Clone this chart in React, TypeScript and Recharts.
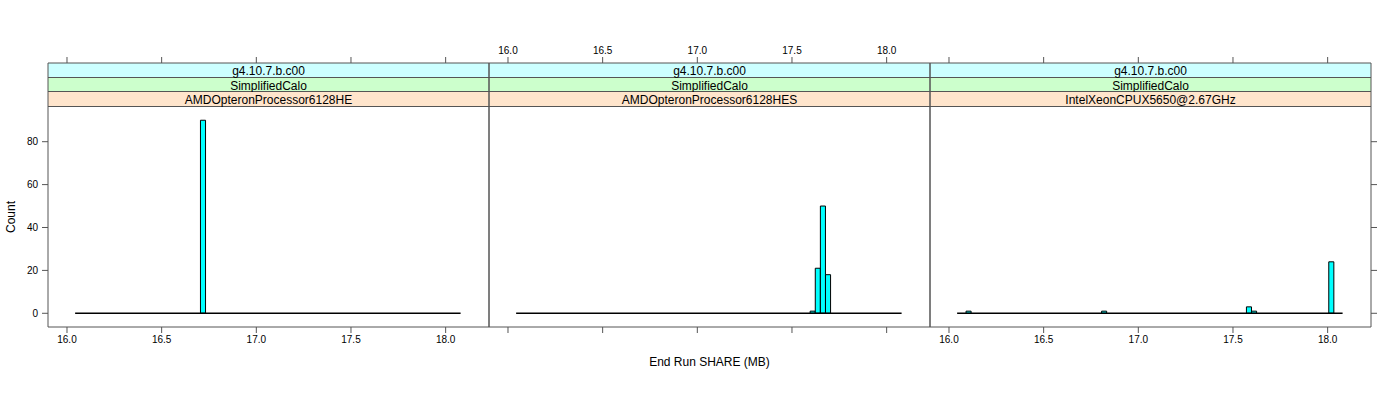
import React from 'react';
import { ComposedChart, XAxis, YAxis, Line, ReferenceArea } from 'recharts';

// strip labels (three conditioning levels per panel)
const VERSION_LABELS = ['g4.10.7.b.c00', 'g4.10.7.b.c00', 'g4.10.7.b.c00'];
const TEST_LABELS = ['SimplifiedCalo', 'SimplifiedCalo', 'SimplifiedCalo'];
const CPU_LABELS = ['AMDOpteronProcessor6128HE', 'AMDOpteronProcessor6128HES', 'IntelXeonCPUX5650@2.67GHz'];

const X_TICKS = [16.0, 16.5, 17.0, 17.5, 18.0];
const Y_TICKS = [0, 20, 40, 60, 80];

// histogram breaks (shared) and non-empty bins per panel
const BIN_WIDTH = 0.0268;
const BREAKS_FROM = 16.043;
const BREAKS_TO = 18.079;

const P1_BIN_STARTS = [16.705];
const P1_COUNTS = [90];
const P2_BIN_STARTS = [17.596, 17.623, 17.65, 17.677];
const P2_COUNTS = [1, 21, 50, 18];
const P3_BIN_STARTS = [16.09, 16.806, 17.571, 17.598, 18.006];
const P3_COUNTS = [1, 1, 3, 1, 24];

const FONT = '"Liberation Sans", Arial, Helvetica, sans-serif';
const FRAME = '#555';
const X_DOMAIN: [number, number] = [15.8997, 18.229];
const Y_DOMAIN: [number, number] = [-6.39, 116.69];

const W = 1400;
const H = 400;
const PLOT_TOP = 63;
const PLOT_BOTTOM = 327;

const panels = [
  { left: 48, right: 489, starts: P1_BIN_STARTS, counts: P1_COUNTS, yLabels: true, rightTicks: false, topLabels: false, bottomLabels: true },
  { left: 489, right: 930, starts: P2_BIN_STARTS, counts: P2_COUNTS, yLabels: false, rightTicks: false, topLabels: true, bottomLabels: false },
  { left: 930, right: 1371, starts: P3_BIN_STARTS, counts: P3_COUNTS, yLabels: false, rightTicks: true, topLabels: false, bottomLabels: true },
];

const stripColors = ['#CCFFFF', '#CCFFCC', '#FFE5CC'];
const stripRows = [
  { top: 63, height: 15 },
  { top: 78, height: 14 },
  { top: 92, height: 15 },
];

const baseline = [
  { x: BREAKS_FROM, y: 0 },
  { x: BREAKS_TO, y: 0 },
];

const tickStyle = { fontSize: 10, fill: '#000', fontFamily: FONT };
const blank = () => '';
const fmt = (v: number) => v.toFixed(1);

const Panel = ({ p }: { p: (typeof panels)[number] }) => {
  const margin = {
    top: PLOT_TOP - 30,
    bottom: H - PLOT_BOTTOM - 30,
    left: p.left - 30,
    right: W - p.right - 20,
  };
  return (
    <div style={{ position: 'absolute', left: 0, top: 0 }}>
      <ComposedChart width={W} height={H} margin={margin}>
        <XAxis
          xAxisId="b"
          type="number"
          dataKey="x"
          orientation="bottom"
          height={30}
          domain={X_DOMAIN}
          allowDataOverflow
          ticks={X_TICKS}
          interval={0}
          tickFormatter={p.bottomLabels ? fmt : blank}
          tickSize={6}
          tickMargin={3}
          tick={tickStyle}
          axisLine={{ stroke: FRAME }}
          tickLine={{ stroke: FRAME }}
        />
        <XAxis
          xAxisId="t"
          type="number"
          dataKey="x"
          orientation="top"
          height={30}
          domain={X_DOMAIN}
          allowDataOverflow
          ticks={X_TICKS}
          interval={0}
          tickFormatter={p.topLabels ? fmt : blank}
          tickSize={6}
          tickMargin={3}
          tick={tickStyle}
          axisLine={{ stroke: FRAME }}
          tickLine={{ stroke: FRAME }}
        />
        <YAxis
          yAxisId="l"
          orientation="left"
          width={30}
          domain={Y_DOMAIN}
          allowDataOverflow
          ticks={Y_TICKS}
          interval={0}
          tickFormatter={p.yLabels ? (v: number) => String(v) : blank}
          tickSize={6}
          tickMargin={4}
          tick={tickStyle}
          axisLine={{ stroke: FRAME }}
          tickLine={p.yLabels ? { stroke: FRAME } : false}
        />
        <YAxis
          yAxisId="r"
          orientation="right"
          width={20}
          domain={Y_DOMAIN}
          allowDataOverflow
          ticks={Y_TICKS}
          interval={0}
          tickFormatter={blank}
          tickSize={6}
          tick={tickStyle}
          axisLine={{ stroke: FRAME }}
          tickLine={p.rightTicks ? { stroke: FRAME } : false}
        />
        {/* invisible copy so the top axis gets a domain */}
        <Line
          xAxisId="t"
          yAxisId="r"
          data={baseline}
          dataKey="y"
          stroke="none"
          dot={false}
          activeDot={false}
          isAnimationActive={false}
        />
        <Line
          xAxisId="b"
          yAxisId="l"
          data={baseline}
          dataKey="y"
          type="linear"
          stroke="#000"
          strokeWidth={1.6}
          dot={false}
          activeDot={false}
          isAnimationActive={false}
        />
        {p.starts.map((s, i) => (
          <ReferenceArea
            key={i}
            xAxisId="b"
            yAxisId="l"
            x1={s}
            x2={s + BIN_WIDTH}
            y1={0}
            y2={p.counts[i]}
            fill="#00FFFF"
            fillOpacity={1}
            stroke="#000"
            strokeWidth={1}
            strokeOpacity={1}
          />
        ))}
      </ComposedChart>
    </div>
  );
};

const Strips = () => (
  <>
    {panels.map((p, pi) =>
      [VERSION_LABELS[pi], TEST_LABELS[pi], CPU_LABELS[pi]].map((txt, ri) => (
        <div
          key={`${pi}-${ri}`}
          style={{
            position: 'absolute',
            left: p.left,
            width: p.right - p.left,
            top: stripRows[ri].top,
            height: stripRows[ri].height,
            boxSizing: 'border-box',
            paddingTop: 1,
            background: stripColors[ri],
            borderBottom: `1px solid ${FRAME}`,
            fontFamily: FONT,
            fontSize: 12,
            lineHeight: `${stripRows[ri].height}px`,
            textAlign: 'center',
            color: '#000',
            whiteSpace: 'nowrap',
          }}
        >
          {txt}
        </div>
      ))
    )}
  </>
);

export default function App() {
  return (
    <div style={{ position: 'absolute', left: 0, top: 0, width: W, height: H, background: '#fff', overflow: 'hidden' }}>
      <Strips />
      {panels.map((p, i) => (
        <Panel key={i} p={p} />
      ))}
      <svg width={W} height={H} style={{ position: 'absolute', left: 0, top: 0, pointerEvents: 'none' }}>
        <text x={709.5} y={366} textAnchor="middle" fontFamily={FONT} fontSize={12} fill="#000">
          End Run SHARE (MB)
        </text>
        <text x={15} y={217} textAnchor="middle" fontFamily={FONT} fontSize={12} fill="#000" transform="rotate(-90 15 217)">
          Count
        </text>
      </svg>
    </div>
  );
}
